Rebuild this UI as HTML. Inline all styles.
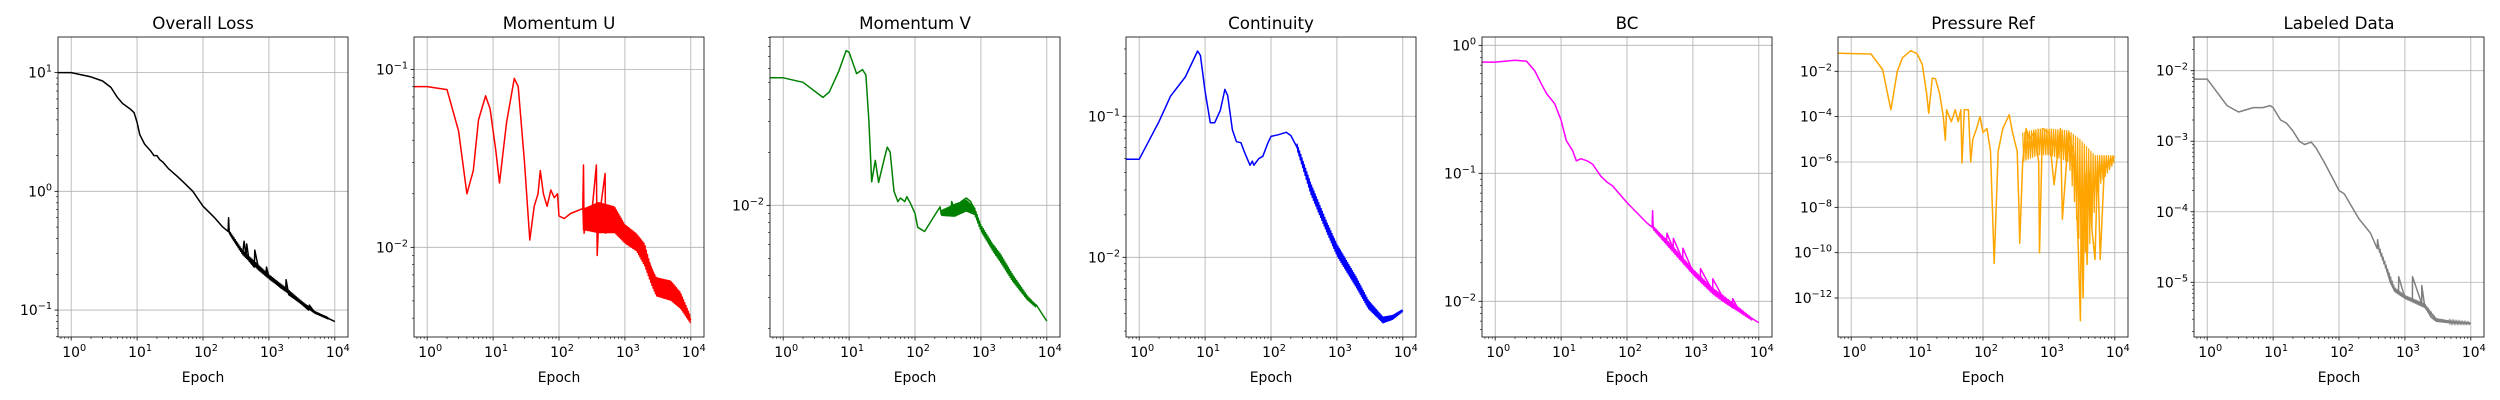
<!DOCTYPE html>
<html><head><meta charset="utf-8">
<style>
html,body{margin:0;padding:0;background:#fff;}
svg{display:block;font-family:"DejaVu Sans","Liberation Sans",sans-serif;}
</style></head>
<body>
<svg id="fig" width="2500" height="400" xmlns="http://www.w3.org/2000/svg"></svg>
<script>
// ---------- data (epoch / value) ----------
const lossE=[0.63,1,2,3,4,5,6,8,9,10,11,13,16,18,20,22,25,30,40,50,70,100,150,200,240,245,250,255,300,400,420,450,460,500,600,610,700,900,920,1000,1500,1800,1820,2000,3000,4000,4100,5000,7000,10000];
const lossV=[10,10,9.2,8.5,7.5,6.2,5.5,4.9,4.6,3.8,3.0,2.5,2.2,2.0,2.0,1.85,1.75,1.55,1.35,1.2,1.0,0.75,0.6,0.5,0.46,0.6,0.45,0.44,0.38,0.3,0.38,0.28,0.36,0.26,0.23,0.32,0.22,0.2,0.23,0.19,0.155,0.145,0.18,0.135,0.115,0.1,0.11,0.095,0.088,0.08];
const lossBE=[250,400,700,1000,2000,3000,5000,8000];
const lossBU=[0.47,0.32,0.24,0.2,0.148,0.122,0.098,0.087];
const lossBL=[0.44,0.29,0.215,0.182,0.136,0.113,0.093,0.083];

const muE=[0.63,1,2,3,4,5,6,7.7,9,11,12.5,16,21,24,30,36,42,48,52,58,66,75,85,95,100,120,150,230,235,240,260,300,370,380,400,500,510,600,700,1000,1500,2000,3000,4000,5000,7000,10000];
const muV=[0.08,0.08,0.077,0.045,0.02,0.027,0.052,0.071,0.06,0.035,0.023,0.05,0.089,0.08,0.03,0.011,0.017,0.02,0.027,0.02,0.017,0.021,0.019,0.02,0.015,0.0145,0.0155,0.0165,0.029,0.012,0.015,0.013,0.029,0.009,0.014,0.026,0.012,0.016,0.014,0.012,0.0105,0.0095,0.0065,0.006,0.0058,0.005,0.0039];
const muBE=[230,400,700,1000,1500,2000,2500,3000,5000,7000,10000];
const muBU=[0.0165,0.018,0.017,0.0135,0.012,0.0105,0.0078,0.0068,0.0065,0.0056,0.0041];
const muBL=[0.0125,0.012,0.012,0.0105,0.0095,0.0078,0.0062,0.0053,0.005,0.0045,0.0037];

const mvE=[0.63,1,2,4,5,7,9,10,13,16,18,20,22,25,28,35,38,42,48,55,60,70,75,85,100,110,140,200,240,250,260,350,360,400,500,600,700,800,1000,1500,2000,3000,5000,7000,10000];
const mvV=[0.053,0.053,0.05,0.041,0.044,0.058,0.0755,0.074,0.056,0.059,0.055,0.03,0.0136,0.018,0.0135,0.019,0.0214,0.02,0.012,0.0105,0.011,0.0105,0.0112,0.0103,0.009,0.0075,0.0071,0.0088,0.0098,0.0089,0.0092,0.0087,0.0105,0.0095,0.0105,0.011,0.0105,0.0095,0.0075,0.0058,0.005,0.0039,0.003,0.0027,0.0022];
const mvBE=[250,400,600,800,1000,1500,2000,3000,5000,7000];
const mvBU=[0.0094,0.0102,0.0108,0.0098,0.0078,0.0061,0.0053,0.0041,0.0031,0.0027];
const mvBL=[0.0087,0.0086,0.0092,0.0088,0.0071,0.0055,0.0047,0.0037,0.0029,0.0026];

const ctE=[0.63,1,2,3,5,7.7,8.5,10,12,14,17,20,22,26,30,35,40,48,52,55,65,75,90,100,130,170,200,250,400,700,1000,2000,3000,5000,7000,10000];
const ctV=[0.0495,0.0495,0.0916,0.139,0.19,0.29,0.27,0.15,0.09,0.09,0.11,0.155,0.14,0.08,0.066,0.065,0.055,0.045,0.048,0.045,0.05,0.052,0.065,0.072,0.074,0.077,0.073,0.06,0.031,0.016,0.011,0.0065,0.0046,0.0035,0.0037,0.0042];
const ctBE=[250,400,700,1000,2000,3000,5000,7000,10000];
const ctBU=[0.064,0.034,0.018,0.0125,0.0072,0.005,0.0038,0.0039,0.0043];
const ctBL=[0.057,0.028,0.015,0.0102,0.006,0.0043,0.0034,0.0036,0.0041];

const bcE=[0.63,1,2,3,4,5,6,8,10,12,15,17,20,25,30,40,50,60,100,200,240,245,250,400,405,500,505,700,705,1000,1300,1305,2000,2005,3000,4000,4005,5000,10000];
const bcV=[0.74,0.74,0.765,0.75,0.63,0.5,0.42,0.35,0.26,0.18,0.15,0.125,0.13,0.125,0.118,0.095,0.085,0.08,0.059,0.041,0.038,0.051,0.037,0.03,0.034,0.026,0.031,0.021,0.026,0.017,0.015,0.018,0.012,0.015,0.0102,0.0089,0.0105,0.0085,0.0068];
const bcBE=[250,500,1000,2000,3000,5000,8000];
const bcBU=[0.039,0.027,0.018,0.0128,0.011,0.009,0.0074];
const bcBL=[0.036,0.024,0.016,0.0113,0.0097,0.0082,0.007];

const prE=[0.63,2,3,4,5,6,8,10,12,14,15,17,19,22,25,26.8,28,33,38,42,46,48,52,60,65,70,80,90,100,115,130,148,170,200,250,280,330,350,360,400,450,500,600,700,720,800,1000,1200,1500,1600,2000,2500,2800,3000,3100,3300,3500,3800,4000,4500,5000,5500,6000,7000,8000,10000];
const prV=[0.062,0.058,0.012,2e-4,0.01,0.04,0.081,0.06,0.02,1e-3,1.4e-4,5e-3,4.7e-3,1e-3,1e-4,9e-6,2e-4,6e-5,2e-4,6e-5,2e-4,9e-7,2e-4,2e-4,1e-6,1e-5,3e-5,1e-4,2e-5,3e-5,3e-6,3.4e-11,3e-6,3e-5,1.2e-4,2e-5,3e-6,1e-8,2.6e-10,1e-6,3e-5,1e-5,2e-5,1e-6,1e-10,3e-5,2e-5,1e-7,3e-5,3e-9,2e-5,1e-6,1e-10,1e-13,1e-8,1e-12,3e-7,3e-11,1e-6,1e-9,5e-11,1e-6,5e-11,1e-6,1e-6,1.7e-6];
const prBE=[400,700,1000,2000,2500,3000,4000,5000,6000,10000];
const prBU=[2e-5,3e-5,3e-5,2.5e-5,1.5e-5,1e-5,4e-6,2e-6,2e-6,2e-6];
const prBL=[1e-6,2e-6,2e-6,1e-6,1e-8,1e-10,1e-10,1e-8,1e-7,1e-6];

const ldE=[0.63,1,2,3,5,7,9,10,13,16,20,25,30,38,45,60,80,100,120,200,300,380,385,400,500,600,700,800,805,1000,1300,1305,1800,1805,2000,2500,3000,5000,10000];
const ldV=[0.0076,0.0076,0.0032,0.0026,0.003,0.003,0.0032,0.003,0.002,0.0018,0.0014,0.001,9e-4,9.7e-4,8e-4,5e-4,3e-4,2e-4,1.8e-4,8e-5,5e-5,3e-5,4e-5,3e-5,1.8e-5,1e-5,7.5e-6,7e-6,1.2e-5,6e-6,5.5e-6,1.2e-5,5e-6,9e-6,4.6e-6,3.2e-6,2.8e-6,2.7e-6,2.6e-6];
const ldBE=[400,700,1000,2000,3000,5000,10000];
const ldBU=[3.4e-5,8.5e-6,6.6e-6,5e-6,3.1e-6,2.85e-6,2.7e-6];
const ldBL=[2.8e-5,7.2e-6,5.8e-6,4.3e-6,2.75e-6,2.6e-6,2.55e-6];

const titles=["Overall Loss","Momentum U","Momentum V","Continuity","BC","Pressure Ref","Labeled Data"];
const xTicks=[0,1,2,3,4];

const panels=[
 {name:"overall-loss",left:58,ylo:-1.227,yhi:1.30,maj:[-1,0,1],col:"#000000",e:lossE,v:lossV,be:lossBE,bu:lossBU,bl:lossBL,minor:true,step:1.2},
 {name:"momentum-u",left:414,ylo:-2.504,yhi:-0.818,maj:[-2,-1],col:"#ff0000",e:muE,v:muV,be:muBE,bu:muBU,bl:muBL,minor:true,step:1.2},
 {name:"momentum-v",left:770,ylo:-2.748,yhi:-1.044,maj:[-2],col:"#008000",e:mvE,v:mvV,be:mvBE,bu:mvBU,bl:mvBL,minor:true,step:1.2},
 {name:"continuity",left:1126,ylo:-2.565,yhi:-0.438,maj:[-2,-1],col:"#0000ff",e:ctE,v:ctV,be:ctBE,bu:ctBU,bl:ctBL,minor:true,step:1.2},
 {name:"bc",left:1482,ylo:-2.279,yhi:0.065,maj:[-2,-1,0],col:"#ff00ff",e:bcE,v:bcV,be:bcBE,bu:bcBU,bl:bcBL,minor:true,step:1.5},
 {name:"pressure-ref",left:1838,ylo:-13.72,yhi:-0.487,maj:[-12,-10,-8,-6,-4,-2],col:"#ffa500",e:prE,v:prV,be:prBE,bu:prBU,bl:prBL,minor:false,step:2.2},
 {name:"labeled-data",left:2194,ylo:-5.776,yhi:-1.522,maj:[-5,-4,-3,-2],col:"#808080",e:ldE,v:ldV,be:ldBE,bu:ldBU,bl:ldBL,minor:true,step:1.5}
];

const NS="http://www.w3.org/2000/svg";
const svg=document.getElementById('fig');
const TOP=37,BOT=337,W=290;
function mk(tag,attrs,parent){const el=document.createElementNS(NS,tag);for(const k in attrs)el.setAttribute(k,attrs[k]);(parent||svg).appendChild(el);return el;}
function sup(parent,x,y,exp,anchor){
  const t=mk('text',{x:x,y:y,'font-size':'13.9','text-anchor':anchor,fill:'#000'},parent);
  
  
  const a=document.createElementNS(NS,'tspan');a.textContent='10';t.appendChild(a);
  const b=document.createElementNS(NS,'tspan');b.setAttribute('dy','-6');b.setAttribute('font-size','9.7');
  b.textContent=(exp<0?'\u2212':'')+Math.abs(exp);t.appendChild(b);
  return t;
}
function interpLog(es,vs,e){
  const le=Math.log10(e);
  if(le<=Math.log10(es[0]))return vs[0];
  for(let k=0;k<es.length-1;k++){
    const a=Math.log10(es[k]),b=Math.log10(es[k+1]);
    if(le>=a&&le<=b){const t=(le-a)/(b-a);return Math.pow(10,Math.log10(vs[k])*(1-t)+Math.log10(vs[k+1])*t);}
  }
  return vs[vs.length-1];
}
panels.forEach((p,i)=>{
  const g=mk('g',{});
  
  
  const X=e=>p.left+(Math.log10(e)+0.2)/4.4*W;
  const Xinv=x=>Math.pow(10,(x-p.left)/W*4.4-0.2);
  const Y=v=>TOP+(p.yhi-Math.log10(v))/(p.yhi-p.ylo)*(BOT-TOP);
  const YL=l=>TOP+(p.yhi-l)/(p.yhi-p.ylo)*(BOT-TOP);
  const clipId='clip'+i;
  const cp=mk('clipPath',{id:clipId},g);mk('rect',{x:p.left,y:TOP,width:W,height:BOT-TOP},cp);
  xTicks.forEach(t=>{const x=X(Math.pow(10,t));const l=mk('line',{x1:x,x2:x,y1:TOP,y2:BOT,stroke:'#b0b0b0','stroke-width':0.8},g);
    });
  p.maj.forEach(t=>{const y=YL(t);const l=mk('line',{x1:p.left,x2:p.left+W,y1:y,y2:y,stroke:'#b0b0b0','stroke-width':0.8},g);
    });
  const x0=X(p.be[0]),x1=X(p.be[p.be.length-1]);
  let pts=[],k=0;
  for(let x=x0;x<=x1;x+=p.step/2,k++){
    const e=Xinv(x);
    const v=(k%2===0)?interpLog(p.be,p.bu,e):interpLog(p.be,p.bl,e);
    pts.push(x.toFixed(1)+','+Y(v).toFixed(1));
  }
  const band=mk('polyline',{points:pts.join(' '),fill:'none',stroke:p.col,'stroke-width':1.2,'clip-path':'url(#'+clipId+')'},g);
  
  
  const line=mk('polyline',{points:p.e.map((e,k)=>X(e).toFixed(1)+','+Y(p.v[k]).toFixed(1)).join(' '),fill:'none',stroke:p.col,'stroke-width':1.5,'stroke-linejoin':'round','clip-path':'url(#'+clipId+')'},g);
  
  
  const fr=mk('rect',{x:p.left,y:TOP,width:W,height:BOT-TOP,fill:'none',stroke:'#000','stroke-width':0.8},g);
  
  
  xTicks.forEach(t=>{const x=X(Math.pow(10,t));mk('line',{x1:x,x2:x,y1:BOT,y2:BOT+3.5,stroke:'#000','stroke-width':0.8},g);
    sup(g,x+3,BOT+20,t,'middle');
    if(t<4)for(let m=2;m<=9;m++){const xm=X(m*Math.pow(10,t));mk('line',{x1:xm,x2:xm,y1:BOT,y2:BOT+2,stroke:'#000','stroke-width':0.6},g);}
  });
  for(let m=7;m<=9;m++){const xm=X(m/10);if(xm>=p.left)mk('line',{x1:xm,x2:xm,y1:BOT,y2:BOT+2,stroke:'#000','stroke-width':0.6},g);}
  p.maj.forEach(t=>{const y=YL(t);mk('line',{x1:p.left-3.5,x2:p.left,y1:y,y2:y,stroke:'#000','stroke-width':0.8},g);
    sup(g,p.left-6,y+5,t,'end');});
  if(p.minor){
    for(let d=Math.floor(p.ylo);d<=Math.ceil(p.yhi);d++)for(let m=2;m<=9;m++){
      const l=d+Math.log10(m);if(l<p.ylo||l>p.yhi)continue;const y=YL(l);
      mk('line',{x1:p.left-2,x2:p.left,y1:y,y2:y,stroke:'#000','stroke-width':0.6},g);}
  }
  const tt=mk('text',{x:p.left+W/2,y:29,'font-size':'16.7','text-anchor':'middle',fill:'#000'},g);
  tt.textContent=titles[i];
  
  
  const xl=mk('text',{x:p.left+W/2,y:382,'font-size':'13.9','text-anchor':'middle',fill:'#000'},g);
  xl.textContent='Epoch';
  
  
});
</script>
</body></html>
